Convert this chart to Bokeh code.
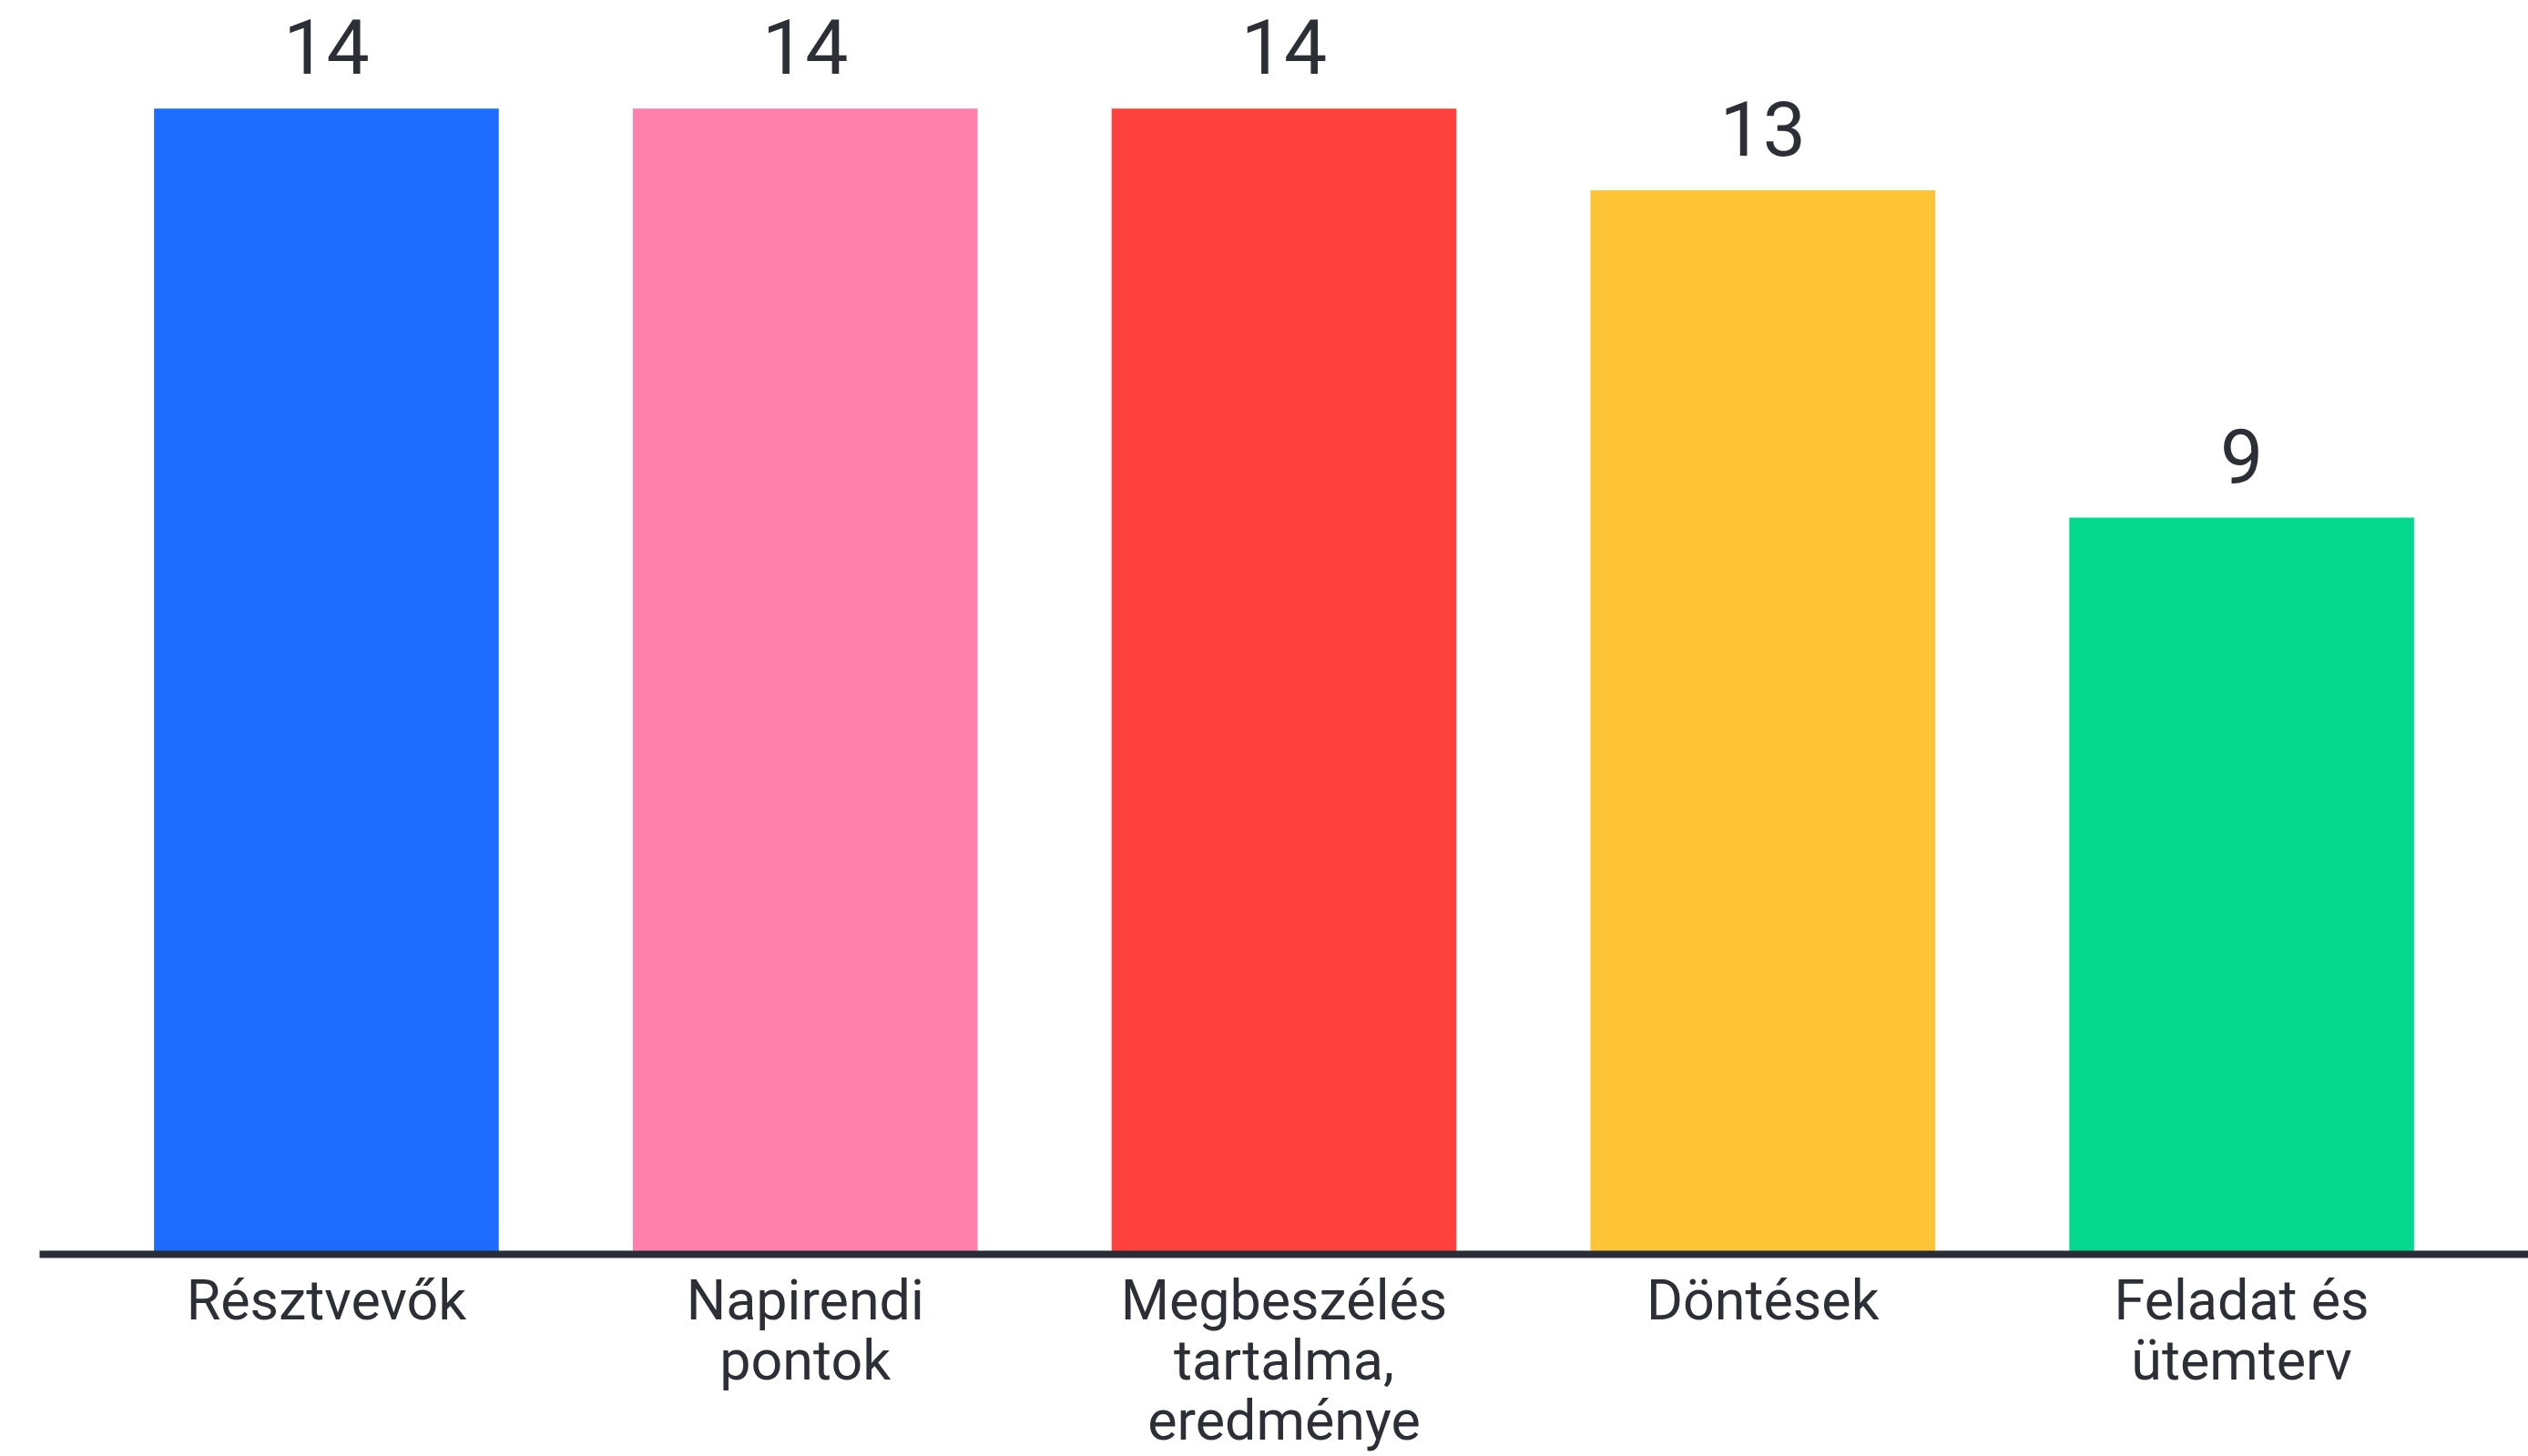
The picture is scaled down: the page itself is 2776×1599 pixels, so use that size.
from bokeh.plotting import figure
from bokeh.models import ColumnDataSource, FactorRange, LabelSet
from bokeh.core.properties import value
from bokeh.embed import file_html
from bokeh.resources import INLINE

categories = ["Résztvevők", "Napirendi\npontok", "Megbeszélés\ntartalma,\neredménye", "Döntések", "Feladat és\nütemterv"]
values = [14, 14, 14, 13, 9]
colors = ["#1E6BFF", "#FF80AB", "#FF413D", "#FFC336", "#04D78E"]
labels = [str(v) for v in values]

TEXT = "#2D2F36"
FONT = "Roboto"

src = ColumnDataSource(dict(cat=categories, val=values, color=colors, lab=labels))

p = figure(
    x_range=FactorRange(factors=categories, range_padding=0.0396),
    y_range=(0, 15.32),
    width=2776, height=1599,
    output_backend="svg", toolbar_location=None,
    min_border_left=43, min_border_right=0, min_border_top=0, min_border_bottom=222,
)
p.x_range.range_padding_units = "percent"

p.vbar(x="cat", top="val", width=0.72, color="color", line_color=None, source=src)

p.add_layout(LabelSet(x="cat", y="val", text="lab", source=src,
                      text_align="center", text_baseline="alphabetic", y_offset=38,
                      text_font=value(FONT), text_font_size="84px", text_color=TEXT))

p.yaxis.visible = False
p.grid.visible = False
p.outline_line_color = None
p.background_fill_color = "white"
p.border_fill_color = "white"

ax = p.xaxis[0]
ax.axis_line_color = "#2A2D35"
ax.axis_line_width = 8
ax.major_tick_line_color = None
ax.minor_tick_line_color = None
ax.major_tick_out = 0
ax.major_tick_in = 0
ax.major_label_standoff = 14
ax.major_label_text_font = FONT
ax.major_label_text_font_size = "61px"
ax.major_label_text_line_height = 0.92
ax.major_label_text_color = TEXT
ax.major_label_text_align = "center"

open("out.html", "w").write(file_html(p, INLINE))
